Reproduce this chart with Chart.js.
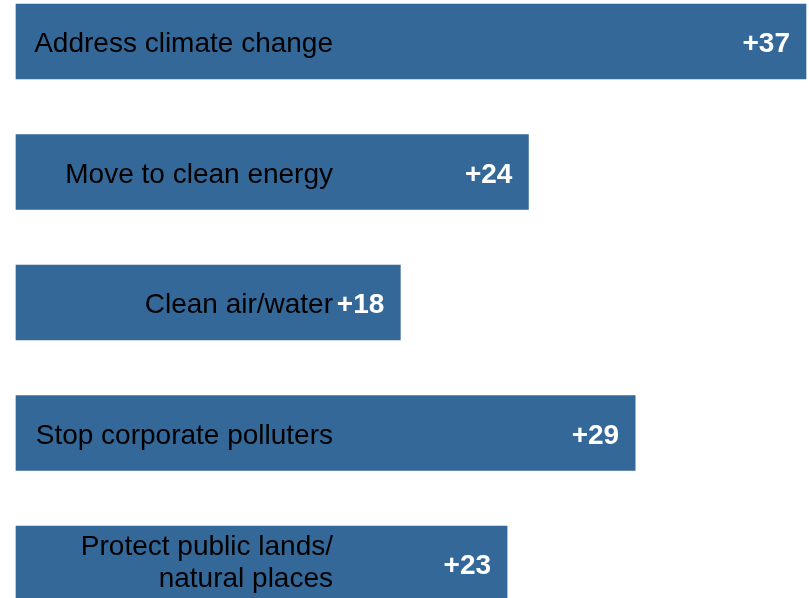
<!DOCTYPE html>
<html>
<head>
<meta charset="utf-8">
<script src="https://cdn.jsdelivr.net/npm/chart.js@4/dist/chart.umd.min.js"></script>
<style>
  html, body { margin: 0; padding: 0; background: #fff; }
  #wrap { width: 809px; height: 598px; position: relative; }
</style>
</head>
<body>
<div id="wrap"><canvas id="bars"></canvas></div>
<script>
// categories (multi-line labels as arrays)
const categories = [
  ["Address climate change"],
  ["Move to clean energy"],
  ["Clean air/water"],
  ["Stop corporate polluters"],
  ["Protect public lands/", "natural places"]
];
const netValues = [37, 24, 18, 29, 23];
const valueLabels = ["+37", "+24", "+18", "+29", "+23"];

const barColor = "#346899";

// draws category name (right aligned) and the net value inside each bar
const insideLabels = {
  id: "insideLabels",
  afterDatasetsDraw(chart) {
    const ctx = chart.ctx;
    const meta = chart.getDatasetMeta(0);
    const area = chart.chartArea;
    ctx.save();
    ctx.textAlign = "right";
    ctx.textBaseline = "alphabetic";
    meta.data.forEach((bar, i) => {
      // category text
      ctx.fillStyle = "#000";
      ctx.font = "28px 'Liberation Sans', Arial, sans-serif";
      const lines = categories[i];
      const lh = 32;
      const n = lines.length - 1;
      const startY = bar.y + 10.5 - 19 * n;
      lines.forEach((ln, k) => ctx.fillText(ln, area.left + 317, startY + k * lh));
      // value text
      ctx.fillStyle = "#fff";
      ctx.font = "bold 28px 'Liberation Sans', Arial, sans-serif";
      ctx.fillText(valueLabels[i], bar.x - 16, bar.y + 10.5);
    });
    ctx.restore();
  }
};

new Chart(document.getElementById("bars"), {
  type: "bar",
  data: {
    labels: categories.map(c => c.join(" ")),
    datasets: [{
      data: netValues,
      backgroundColor: barColor,
      borderWidth: 0,
      barThickness: 75,
      clip: false
    }]
  },
  options: {
    indexAxis: "y",
    responsive: true,
    maintainAspectRatio: false,
    animation: false,
    layout: { padding: { left: 16, right: 3, top: 41.5, bottom: 34.5 } },
    scales: {
      x: { display: false, min: 0, max: 37 },
      y: { display: false, offset: false }
    },
    plugins: {
      legend: { display: false },
      tooltip: { enabled: false }
    }
  },
  plugins: [insideLabels]
});
</script>
</body>
</html>
